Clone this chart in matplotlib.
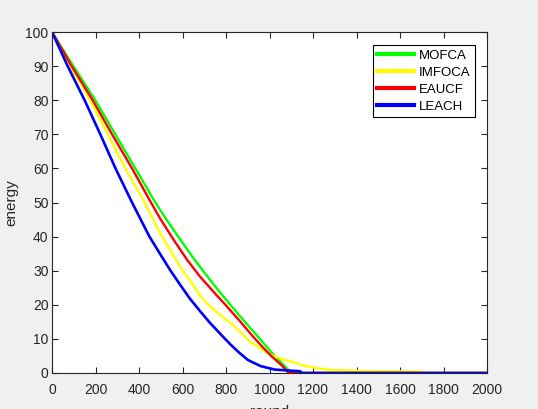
import matplotlib
matplotlib.use("Agg")
import matplotlib.pyplot as plt

# energy vs. round
mofca_x = [0, 98, 199, 291, 383, 475, 520, 580, 640, 700, 760, 820, 880, 950, 1024, 1070, 1100, 2000]
mofca_y = [100, 90, 80, 70, 60, 50, 45.6, 40, 34.6, 29.5, 24.6, 20, 15.5, 10.4, 5, 2, 0, 0]

imfoca_x = [0, 85, 176, 257, 337, 420, 497, 589, 696, 764, 841, 910, 1000, 1060, 1119, 1166, 1261, 1420, 1700, 1705, 2000]
imfoca_y = [100, 90, 80, 70, 60, 50.7, 41, 31.2, 21.4, 17.5, 13.6, 9.2, 5.5, 4, 3, 2, 1, 0.6, 0.4, 0, 0]

eaucf_x = [0, 90, 187, 276, 368, 455, 500, 560, 620, 680, 740, 800, 860, 920, 970, 1008, 1060, 1087, 2000]
eaucf_y = [100, 90, 80, 70, 60, 50, 45, 39, 33.3, 28.3, 24, 19.8, 15.5, 11, 7.5, 5, 2, 0, 0]

leach_x = [0, 72, 150, 222, 292, 368, 448, 500, 545, 590, 634, 680, 725, 772, 820, 860, 901, 960, 1024, 1142, 1145, 2000]
leach_y = [100, 90, 80, 70, 60, 50, 40, 34.6, 30, 25.8, 21.8, 18.2, 14.8, 11.6, 8.4, 6, 3.8, 2, 1, 0.5, 0, 0]

plt.rcParams['font.family'] = ['Liberation Sans', 'DejaVu Sans']
dark = '#262626'

fig = plt.figure(figsize=(5.38, 4.09), dpi=100, facecolor='#f0f0f0')
ax = fig.add_axes([52/538, 36/409, 435/538, 341/409])

ax.plot(mofca_x, mofca_y, color='#00ff00', lw=1.7, label='MOFCA')
ax.plot(imfoca_x, imfoca_y, color='#ffff00', lw=1.7, label='IMFOCA')
ax.plot(eaucf_x, eaucf_y, color='#ff0000', lw=1.7, label='EAUCF')
ax.plot(leach_x, leach_y, color='#0000ff', lw=1.9, label='LEACH')

ax.set_xlim(0, 2000)
ax.set_ylim(0, 100)
ax.set_xticks(range(0, 2001, 200))
ax.set_yticks(range(0, 101, 10))
ax.tick_params(direction='in', top=True, right=True, length=4, width=0.8,
               colors=dark, labelsize=10)
ax.tick_params(axis='x', pad=7)
ax.tick_params(axis='y', pad=2.5)
for s in ax.spines.values():
    s.set_color(dark)
    s.set_linewidth(0.8)

ax.set_xlabel('round', fontsize=11, color=dark, labelpad=6)
ax.set_ylabel('energy', fontsize=11, color=dark, labelpad=5)

leg = ax.legend(loc='upper right', bbox_to_anchor=(0.972, 0.961), fontsize=9.5,
                fancybox=False, edgecolor='black', framealpha=1,
                handlelength=2.8, handletextpad=0.4, borderpad=0.32,
                labelspacing=0.36, borderaxespad=0)
leg.get_frame().set_linewidth(0.8)
for line in leg.get_lines():
    line.set_linewidth(3)

fig.savefig('out.png', dpi=100, facecolor=fig.get_facecolor())
